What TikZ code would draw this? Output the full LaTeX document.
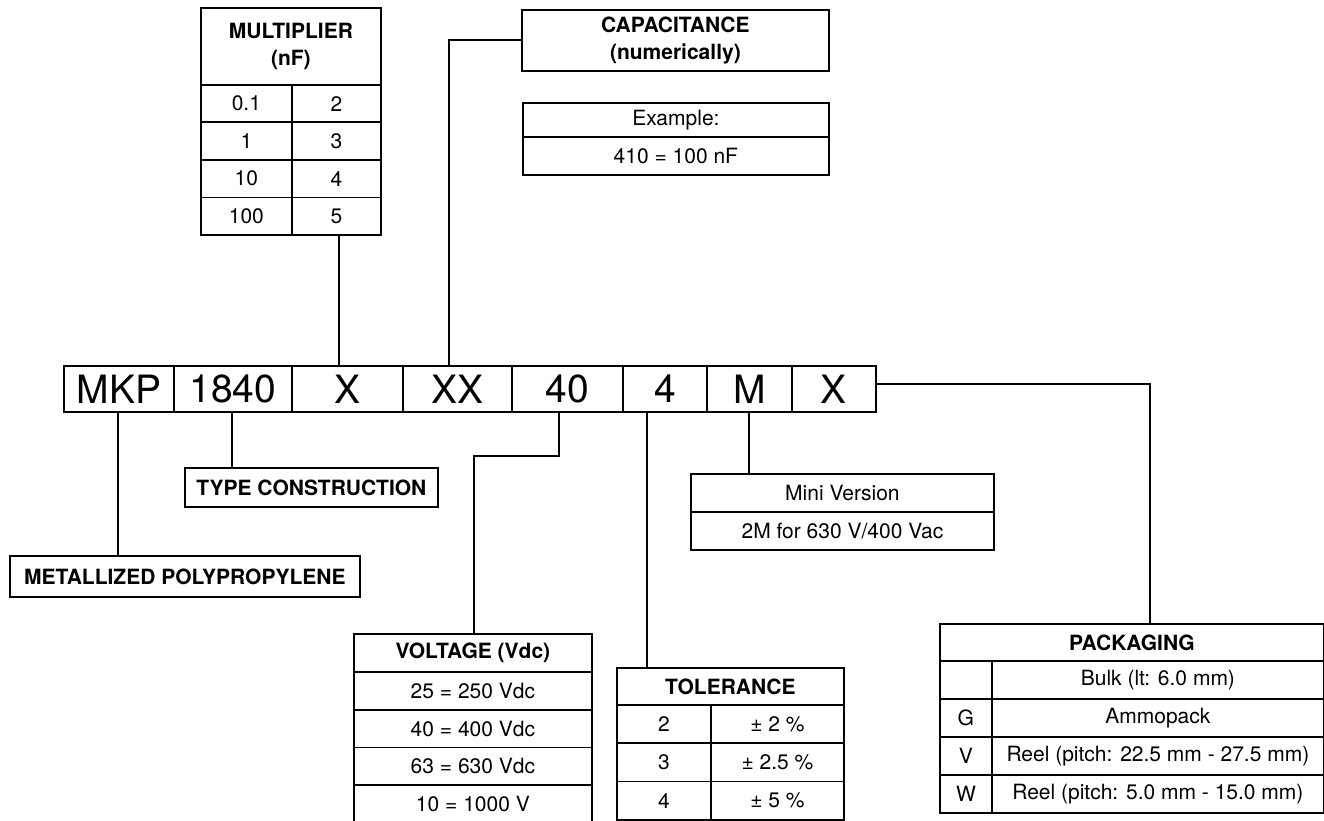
\documentclass[tikz,border=0pt]{standalone}
\usepackage{fontspec}
\setmainfont{TeX Gyre Heros}
\newcommand{\tabfont}{\fontsize{21}{27.5}\selectfont}
\newcommand{\codefont}{\fontsize{39}{39}\selectfont}
\tikzset{
  box/.style={draw, line width=1.8pt, inner sep=0pt, anchor=north west, font=\tabfont},
  head/.style={box, font=\tabfont\bfseries, align=center},
  code/.style={box, font=\codefont, minimum height=46.3},
  wire/.style={line width=1.8pt}
}
\begin{document}
\begin{tikzpicture}[x=1pt,y=-1pt]
\useasboundingbox (0,0) rectangle (1324,821);
% the code itself
\foreach \n/\l/\r/\t in {mkp/63/173/MKP, ser/173/291/1840, mul/291/402/X, cap/402/511/XX,
  vlt/511/622/40, tol/622/706/4, ver/706/791/M, pck/791/875/X}
\node[code, minimum width=\r-\l] (\n) at (\l,365) {\t};
% multiplier
\node[head, minimum width=180, minimum height=77] (mhd) at (200,7) {MULTIPLIER\\(nF)};
\foreach \a/\b [count=\i] in {0.1/2, 1/3, 10/4, 100/5} {
\node[box, minimum width=91, minimum height=37.5] (mta\i) at (200,{84+37.5*(\i-1)}) {\a};
\node[box, minimum width=89, minimum height=37.5] (mtb\i) at (291,{84+37.5*(\i-1)}) {\b};
}
% capacitance
\node[head, minimum width=307, minimum height=61] (chd) at (521,9) {CAPACITANCE\\(numerically)};
\node[box, minimum width=306, minimum height=34] (ex1) at (522,102) {Example:};
\node[box, minimum width=306, minimum height=38] (ex2) at (522,136) {410 = 100 nF};
% type, material
\node[head, minimum width=253, minimum height=39] (typ) at (184,467) {TYPE CONSTRUCTION};
\node[head, minimum width=350, minimum height=41] (met) at (9,555) {METALLIZED POLYPROPYLENE};
% voltage
\node[head, minimum width=238, minimum height=38] (vhd) at (353,633) {VOLTAGE (Vdc)};
\foreach \t [count=\i] in {25 = 250 Vdc, 40 = 400 Vdc, 63 = 630 Vdc, 10 = 1000 V}
\node[box, minimum width=238, minimum height=37.8] (v\i) at (353,{671+37.8*(\i-1)}) {\t};
% tolerance
\node[head, minimum width=227, minimum height=37] (thd) at (616,667) {TOLERANCE};
\foreach \a/\b [count=\i] in {2/± 2 \%, 3/± 2.5 \%, 4/± 5 \%} {
\node[box, minimum width=94, minimum height=38.3] (ta\i) at (616,{704+38.3*(\i-1)}) {\a};
\node[box, minimum width=133, minimum height=38.3] (tb\i) at (710,{704+38.3*(\i-1)}) {\b};
}
% mini version
\node[box, minimum width=303, minimum height=38] (mv1) at (690,473) {Mini Version};
\node[box, minimum width=303, minimum height=38] (mv2) at (690,511) {2M for 630 V/400 Vac};
% packaging
\node[head, minimum width=384, minimum height=37] (phd) at (939,623) {PACKAGING};
\foreach \a/\b [count=\i] in {{}/{Bulk (lt: 6.0 mm)}, G/Ammopack, V/{Reel (pitch: 22.5 mm - 27.5 mm)},
  W/{Reel (pitch: 5.0 mm - 15.0 mm)}} {
\node[box, minimum width=52, minimum height=38] (pa\i) at (939,{660+38*(\i-1)}) {\a};
\node[box, minimum width=332, minimum height=38] (pb\i) at (991,{660+38*(\i-1)}) {\b};
}
% lines
\draw[wire] (mul.north -| 339,0) -- (mtb4.south -| 339,0);
\draw[wire] (cap.north -| 449,0) |- (chd.west);
\draw[wire] (mkp.south -| 118,0) -- (met.north -| 118,0);
\draw[wire] (ser.south -| 232,0) -- (typ.north -| 232,0);
\draw[wire] (vlt.south -| 559,0) -- ++(0,43) -| (vhd.north -| 474,0);
\draw[wire] (tol.south -| 647,0) -- (thd.north -| 647,0);
\draw[wire] (ver.south -| 749,0) -- (mv1.north -| 749,0);
\draw[wire] (pck.east |- 0,384) -| (phd.north -| 1150,0);
\end{tikzpicture}
\end{document}
